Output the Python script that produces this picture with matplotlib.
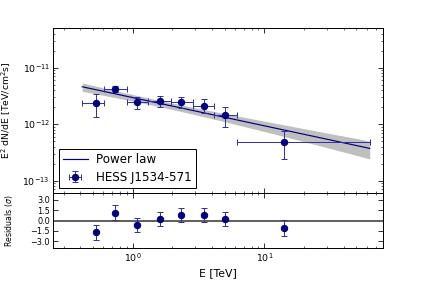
import numpy as np
import matplotlib
matplotlib.use("Agg")
import matplotlib.pyplot as plt

# flux points (E^2 dN/dE in TeV / cm^2 / s)
energy = [0.528, 0.738, 1.086, 1.607, 2.35, 3.46, 5.04, 14.2]
energy_lo = [0.415, 0.611, 0.905, 1.318, 1.95, 2.85, 4.15, 6.19]
energy_hi = [0.611, 0.905, 1.318, 1.95, 2.85, 4.15, 6.19, 63.0]
flux = [2.38e-12, 4.2e-12, 2.48e-12, 2.58e-12, 2.42e-12, 2.06e-12, 1.43e-12, 4.86e-13]
flux_hi = [3.4e-12, 4.8e-12, 3.04e-12, 3.13e-12, 2.97e-12, 2.74e-12, 2.02e-12, 7.6e-13]
flux_lo = [1.35e-12, 3.7e-12, 1.84e-12, 1.97e-12, 1.9e-12, 1.55e-12, 8.74e-13, 2.37e-13]

# residuals in sigma
resid = [-1.69, 1.12, -0.63, 0.29, 0.78, 0.78, 0.2, -1.11]
resid_err = [1.1, 1.1, 1.07, 1.02, 1.05, 1.05, 1.07, 1.15]

# power law fit
ref_energy = 1.5
amplitude = 1.07e-12
amplitude_err = 0.137e-12
index = 2.5
index_err = 0.087

navy = "#000080"
bar_col = "#3030a0"

plt.rcParams["font.family"] = "DejaVu Sans"
fig = plt.figure(figsize=(6, 4), dpi=71)
ax = fig.add_axes([0.125, 0.32, 0.775, 0.581])
axr = fig.add_axes([0.125, 0.127, 0.775, 0.193], sharex=ax)

e = np.logspace(np.log10(energy_lo[0]), np.log10(energy_hi[-1]), 200)
model = amplitude * (e / ref_energy) ** (-index) * e ** 2
rel = np.sqrt((amplitude_err / amplitude) ** 2 + (np.log(e / ref_energy) * index_err) ** 2)
ax.fill_between(e, model * (1 - rel), model * (1 + rel), color="#bfbfbf", lw=0)
ax.plot(e, model, color=navy, lw=1.2, label="Power law")

energy = np.array(energy)
flux = np.array(flux)
xerr = [energy - np.array(energy_lo), np.array(energy_hi) - energy]
yerr = [flux - np.array(flux_lo), np.array(flux_hi) - flux]
ax.errorbar(energy, flux, xerr=xerr, yerr=yerr, fmt="o", color=navy, ms=6.5,
            ecolor=bar_col, elinewidth=1, capsize=3, capthick=1,
            label="HESS J1534-571")

ax.set_xscale("log")
ax.set_yscale("log")
ax.set_xlim(0.25, 80)
ax.set_ylim(6e-14, 5e-11)
ax.set_ylabel("E$^2$ dN/dE [TeV/cm$^2$s]", fontsize=9.5)
ax.yaxis.set_label_coords(-0.122, 0.5)
ax.legend(loc="lower left", fontsize=12, fancybox=False, framealpha=1,
          edgecolor="black", borderaxespad=0.45, handlelength=2.1,
          handletextpad=0.7, borderpad=0.35, labelspacing=0.4)
ax.get_legend().get_frame().set_linewidth(1)
plt.setp(ax.get_xticklabels(), visible=False)

axr.axhline(0, color="#606060", lw=2)
axr.errorbar(energy, resid, yerr=resid_err, fmt="o", color=navy, ms=6.5,
             ecolor=bar_col, elinewidth=1, capsize=3, capthick=1)
axr.set_ylim(-4, 4)
axr.set_yticks([-3.0, -1.5, 0.0, 1.5, 3.0])
axr.set_yticklabels(["\u22123.0", "\u22121.5", "0.0", "1.5", "3.0"])
axr.set_xlabel("E [TeV]", fontsize=11)
axr.set_ylabel("Residuals ($\\sigma$)", fontsize=8)
axr.yaxis.set_label_coords(-0.116, 0.5)

for a in (ax, axr):
    a.tick_params(which="both", direction="in", top=True, right=True, labelsize=9.5)
    a.tick_params(which="major", length=5)
    a.tick_params(which="minor", length=2.5)
    for s in a.spines.values():
        s.set_linewidth(1)
axr.tick_params(axis="y", labelsize=8.2)

fig.savefig("out.png", dpi=71)
